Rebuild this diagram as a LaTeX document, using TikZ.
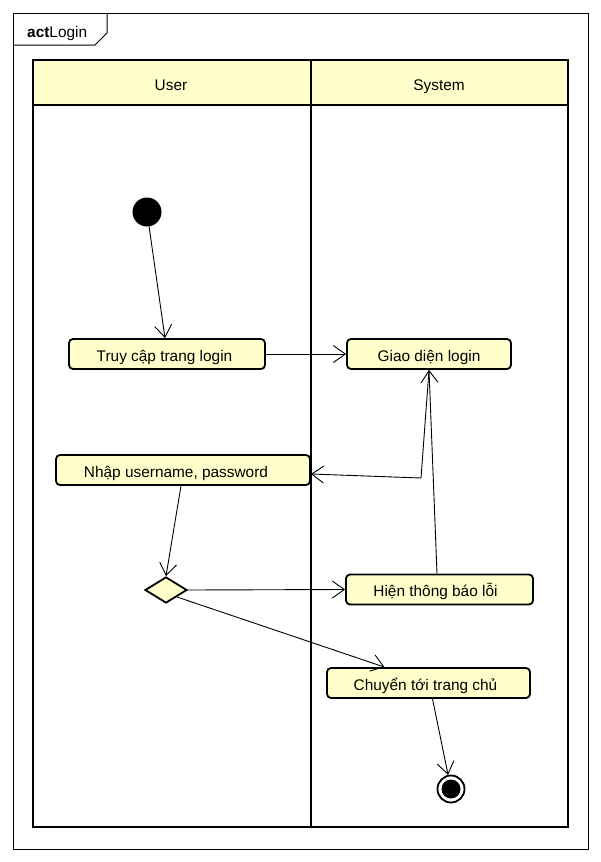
\documentclass[tikz,border=0pt]{standalone}
\usepackage{fontspec}
\setmainfont{Liberation Sans}
\usetikzlibrary{arrows.meta,shapes.geometric}
\definecolor{actfill}{RGB}{255,255,204}
\begin{document}
\begin{tikzpicture}[x=1pt,y=-1pt,
  font=\fontsize{15.4}{18}\selectfont,
  frame/.style={draw=black,line width=1pt},
  lane/.style={draw=black,line width=2.4pt},
  lanehead/.style={inner sep=0pt,text height=16pt,text depth=2.6pt},
  action/.style={draw=black,fill=actfill,rounded corners=4pt,line width=1.8pt,
    minimum height=30pt,inner xsep=0pt,inner ysep=0pt,text height=16pt,text depth=2pt},
  decision/.style={diamond,draw=black,fill=actfill,line width=1.8pt,
    minimum width=42pt,minimum height=26pt,inner sep=0pt},
  initial/.style={circle,fill=black,minimum size=29pt,inner sep=0pt},
  finalnode/.style={circle,draw=black,line width=1.8pt,minimum size=27pt,inner sep=0pt,
    path picture={\fill[black] (path picture bounding box.center) circle (9.5pt);}},
  flow/.style={draw=black,line width=0.9pt,-{Straight Barb[length=12pt,width=17pt,line width=0.9pt]}}]
\useasboundingbox (0,0) rectangle (601,862);
\fill[white] (0,0) rectangle (601,862);

% diagram frame with its name tab
\draw[frame] (13,13) rectangle (588,849);
\draw[frame] (13,45) -- (95,45) -- (107,33) -- (107,13);
\node[anchor=base west,inner sep=0pt] (title) at (27,37) {\textbf{act}Login};

% swimlanes
\fill[actfill] (33,60) rectangle (568,105);
\draw[lane] (33,60) rectangle (568,827);
\draw[lane] (33,105) -- (568,105);
\draw[lane] (311,60) -- (311,827);
\node[lanehead] (laneUser) at (171,84) {User};
\node[lanehead] (laneSystem) at (439,84) {System};

% activity nodes
\node[initial] (start) at (147,212) {};
\node[action,minimum width=196pt] (truy) at (167,354) {\hspace*{-5pt}Truy cập trang login};
\node[action,minimum width=164pt] (giao) at (429,354) {Giao diện login};
\node[action,minimum width=254pt] (nhap) at (183,470) {\hspace*{-14pt}Nhập username, password};
\node[decision] (dec) at (166,590) {};
\node[action,minimum width=187pt] (hien) at (439.5,589.5) {\hspace*{-8pt}Hiện thông báo lỗi};
\node[action,minimum width=203pt] (chuyen) at (428.5,683) {\hspace*{-6pt}Chuyển tới trang chủ};
\node[finalnode] (final) at (451,789) {};

% control flows
\coordinate (bend) at (421,478);
\draw[flow] (start) -- ([xshift=-2pt]truy.north);
\draw[flow] (truy.east) -- (giao.west);
\draw[flow] (giao.south) -- (bend) -- ([yshift=-4pt]nhap.east);
\draw[flow] ([xshift=-2.5pt]hien.north) -- (giao.south);
\draw[flow] ([xshift=-2pt]nhap.south) -- (dec.north);
\draw[flow] (dec.east) -- (hien.west);
\draw[flow] (dec.south east) -- ([xshift=-44pt]chuyen.north);
\draw[flow] ([xshift=4pt]chuyen.south) -- (final);
\end{tikzpicture}
\end{document}
